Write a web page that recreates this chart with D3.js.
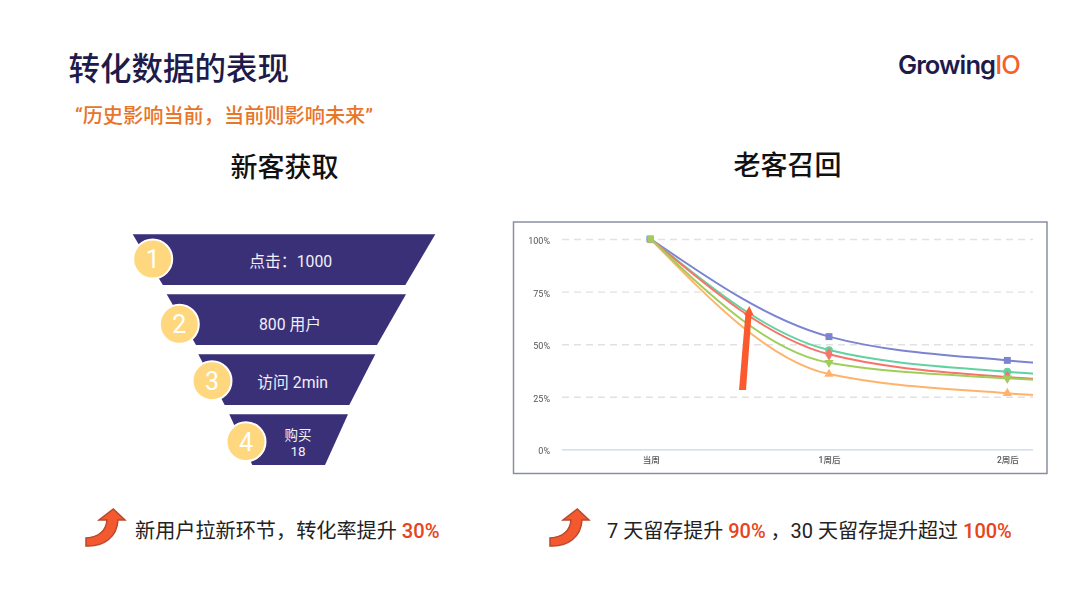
<!DOCTYPE html>
<html>
<head>
<meta charset="utf-8">
<script src="https://cdn.jsdelivr.net/npm/d3@7/dist/d3.min.js"></script>
<style>
  html, body { margin: 0; padding: 0; background: #fff; }
  svg { display: block; }
  text { font-family: Roboto, "Noto Sans CJK SC", sans-serif; }
</style>
</head>
<body>
<svg id="chart" width="1080" height="607"></svg>
<script>
// funnel
const stages = ["点击：1000", "800 用户", "访问 2min", "购买\n18"];
const stageNumbers = ["1", "2", "3", "4"];

// retention chart (3周后 sits past the clip edge, only its lead-in is visible)
const weeks = ["当周", "1周后", "2周后", "3周后"];
const weekTicks = ["当周", "1周后", "2周后"];
const percentTicks = [0, 25, 50, 75, 100];
const purpleValues = [100, 53.6, 42.3, 38];
const tealValues = [100, 47.2, 36.9, 33];
const redValues = [100, 45.2, 34.4, 31];
const limeValues = [100, 41.2, 33.8, 30.5];
const orangeValues = [100, 35.8, 26.7, 23];

const retention = [
  { values: orangeValues, color: "#ffb36b", symbol: d3.symbolTriangle, nudge: [0, 1] },
  { values: purpleValues, color: "#7c83cf", symbol: d3.symbolSquare, nudge: [-1, 0] },
  { values: tealValues, color: "#62d2a2", symbol: d3.symbolCircle, nudge: [0, 0] },
  { values: redValues, color: "#f8736a", symbol: d3.symbolDiamond, nudge: [0, 0] },
  { values: limeValues, color: "#9fcf5a", symbol: d3.symbolTriangle, flip: true, nudge: [0, 0] },
];

const svg = d3.select("#chart");

// header
svg.append("text").attr("x", 68.5).attr("y", 80)
  .attr("font-size", 31.5).attr("font-weight", 500).attr("fill", "#1e1b4b")
  .text("转化数据的表现");
svg.append("text").attr("x", 75).attr("y", 123)
  .attr("font-size", 20.2).attr("font-weight", 500).attr("fill", "#e8752a")
  .text("“历史影响当前，当前则影响未来”");
svg.append("text").attr("x", 284.5).attr("y", 177)
  .attr("text-anchor", "middle").attr("font-size", 27).attr("font-weight", 500).attr("fill", "#111")
  .text("新客获取");
svg.append("text").attr("x", 787.5).attr("y", 175)
  .attr("text-anchor", "middle").attr("font-size", 27).attr("font-weight", 500).attr("fill", "#111")
  .text("老客召回");

// logo
const logo = svg.append("text").attr("x", 898).attr("y", 74)
  .attr("font-size", 25.5).attr("font-weight", 600).attr("letter-spacing", -0.9)
  .style("font-family", "Inter, sans-serif");
logo.append("tspan").attr("fill", "#1e1b4b").text("Growing");
logo.append("tspan").attr("fill", "#f4612d").attr("font-weight", 500).text("IO");

// funnel: edges are piecewise in y because each slab was placed by hand
const slabY = d3.scaleBand().domain(stages).range([234.3, 465]).paddingInner(0.155);
const edgeStops = [234.3, 284.7, 294.3, 345, 354.3, 405, 414.3, 465];
const leftEdge = d3.scaleLinear().domain(edgeStops)
  .range([132.7, 162.7, 166.7, 196, 198.3, 224.7, 229.3, 252.3]);
const rightEdge = d3.scaleLinear().domain(edgeStops)
  .range([435.3, 405.3, 406, 377, 375.3, 349.3, 348, 325]);
const labelX = [290.7, 290, 292.7, 298];
const labelDy = [1.5, 4.5, 2.5, -5];
const badgeX = [152.7, 179.3, 212, 246];
const badgeDy = [-0.6, 4.7, 1.1, 2.1];

const slab = svg.append("g").selectAll("g").data(stages).join("g");
slab.append("path")
  .attr("fill", "#3a3078")
  .attr("d", d => {
    const y0 = slabY(d), y1 = y0 + slabY.bandwidth();
    return d3.line()([[leftEdge(y0), y0], [rightEdge(y0), y0], [rightEdge(y1), y1], [leftEdge(y1), y1]]) + "Z";
  });
slab.append("circle")
  .attr("cx", (d, i) => badgeX[i])
  .attr("cy", (d, i) => slabY(d) + slabY.bandwidth() / 2 + badgeDy[i])
  .attr("r", 19.5)
  .attr("fill", "#ffd77e").attr("stroke", "#fff").attr("stroke-width", 2);
slab.append("text")
  .attr("x", (d, i) => badgeX[i])
  .attr("y", (d, i) => slabY(d) + slabY.bandwidth() / 2 + badgeDy[i] + 9)
  .attr("text-anchor", "middle").attr("font-size", 25).attr("fill", "#fff")
  .text((d, i) => stageNumbers[i]);
slab.each(function (d, i) {
  const lines = d.split("\n");
  const mid = slabY(d) + slabY.bandwidth() / 2 + labelDy[i];
  d3.select(this).selectAll("text.lbl").data(lines).join("text")
    .attr("class", "lbl")
    .attr("x", labelX[i])
    .attr("y", (l, j) => mid + 5.5 + j * 16)
    .attr("text-anchor", "middle")
    .attr("font-size", lines.length > 1 ? 13.5 : 15.8)
    .attr("fill", "#f1eff8")
    .text(l => l);
});

// retention chart
svg.append("rect").attr("x", 513.5).attr("y", 222).attr("width", 533.5).attr("height", 251.5)
  .attr("fill", "#fff").attr("stroke", "#8a8ea0").attr("stroke-width", 1.5);

svg.append("clipPath").attr("id", "plot-clip").append("rect")
  .attr("x", 562).attr("y", 225).attr("width", 471).attr("height", 240);

// the source chart is an upscaled screenshot, so it reads a little soft
const soft = svg.append("filter").attr("id", "soft");
soft.append("feGaussianBlur").attr("stdDeviation", 0.35);

const x = d3.scalePoint().domain(weeks).range([650.7, 650.7 + 178.3 * 3]);
const y = d3.scaleLinear().domain([0, 100]).range([449.4, 239]);

const plot = svg.append("g").attr("filter", "url(#soft)");

const yAxis = plot.append("g").attr("transform", "translate(562,0)")
  .call(d3.axisLeft(y).tickValues(percentTicks).tickSize(-471).tickPadding(12).tickFormat(d => d + "%"));
yAxis.select(".domain").remove();
yAxis.selectAll("line")
  .attr("stroke", d => d === 0 ? "#c9d6ee" : "#e1e1e1")
  .attr("stroke-width", 1.4)
  .attr("stroke-dasharray", d => d === 0 ? null : "7 5");
yAxis.selectAll("text").attr("font-size", 9).attr("fill", "#555").attr("dy", "0.5em")
  .style("font-family", 'Roboto, "Noto Sans CJK SC", sans-serif');

const xAxis = plot.append("g").attr("transform", "translate(0,449.4)")
  .call(d3.axisBottom(x).tickValues(weekTicks).tickSize(0).tickPadding(8));
xAxis.select(".domain").remove();
xAxis.selectAll("text").attr("font-size", 8.5).attr("font-weight", 500).attr("fill", "#555")
  .style("font-family", 'Roboto, "Noto Sans CJK SC", sans-serif');

const lineGen = d3.line()
  .x((d, i) => x(weeks[i]))
  .y(d => y(d))
  .curve(d3.curveMonotoneX);

const series = plot.append("g").attr("clip-path", "url(#plot-clip)")
  .selectAll("g").data(retention).join("g");
series.append("path")
  .attr("fill", "none").attr("stroke", d => d.color).attr("stroke-width", 2)
  .attr("d", d => lineGen(d.values));
// every series starts at 100% with a square, later points use the series symbol
series.selectAll("path.mark")
  .data(d => d.values.slice(0, 3).map((v, i) => ({ v, i, s: d })))
  .join("path").attr("class", "mark")
  .attr("fill", d => d.s.color)
  .attr("transform", d => {
    const [nx, ny] = d.i === 0 ? d.s.nudge : [0, 0];
    return `translate(${x(weeks[d.i]) + nx},${y(d.v) + ny})${d.s.flip && d.i > 0 ? " rotate(180)" : ""}`;
  })
  .attr("d", d => {
    if (d.i === 0) return d3.symbol().type(d3.symbolSquare).size(42)();
    return d3.symbol().type(d.s.symbol).size(d.s.symbol === d3.symbolTriangle ? 38 : 48)();
  });

// hand-drawn annotation arrow on the chart
svg.append("path").attr("fill", "#fb5a2e")
  .attr("d", "M739,390 L746,390 L751.5,315 L753.5,315 L749.3,306 L744.2,315 L745.3,315 Z");

// takeaways
const riseArrow = "M0,29 C12,28 20,22 21,11 L13,11 L27.3,0 L39,11 L32,11 C31,28 18,38 0,37 Z";
[[86, 509], [550, 509]].forEach(([ax, ay]) => {
  svg.append("path").attr("d", riseArrow)
    .attr("transform", `translate(${ax},${ay})`)
    .attr("fill", "#f4582f").attr("stroke", "#b84a2e").attr("stroke-width", 1.5);
});

const takeaway = (tx, size, parts) => {
  const t = svg.append("text").attr("x", tx).attr("y", 538).attr("font-size", size).attr("fill", "#222");
  parts.forEach(([s, hot]) => {
    const span = t.append("tspan").text(s);
    if (hot) span.attr("fill", "#e8431a").attr("font-weight", 500);
  });
};
takeaway(135, 20.15, [["新用户拉新环节，转化率提升 "], ["30%", true]]);
takeaway(607, 20, [["7 天留存提升 "], ["90%", true], [" ，30 天留存提升超过 "], ["100%", true]]);
</script>
</body>
</html>
